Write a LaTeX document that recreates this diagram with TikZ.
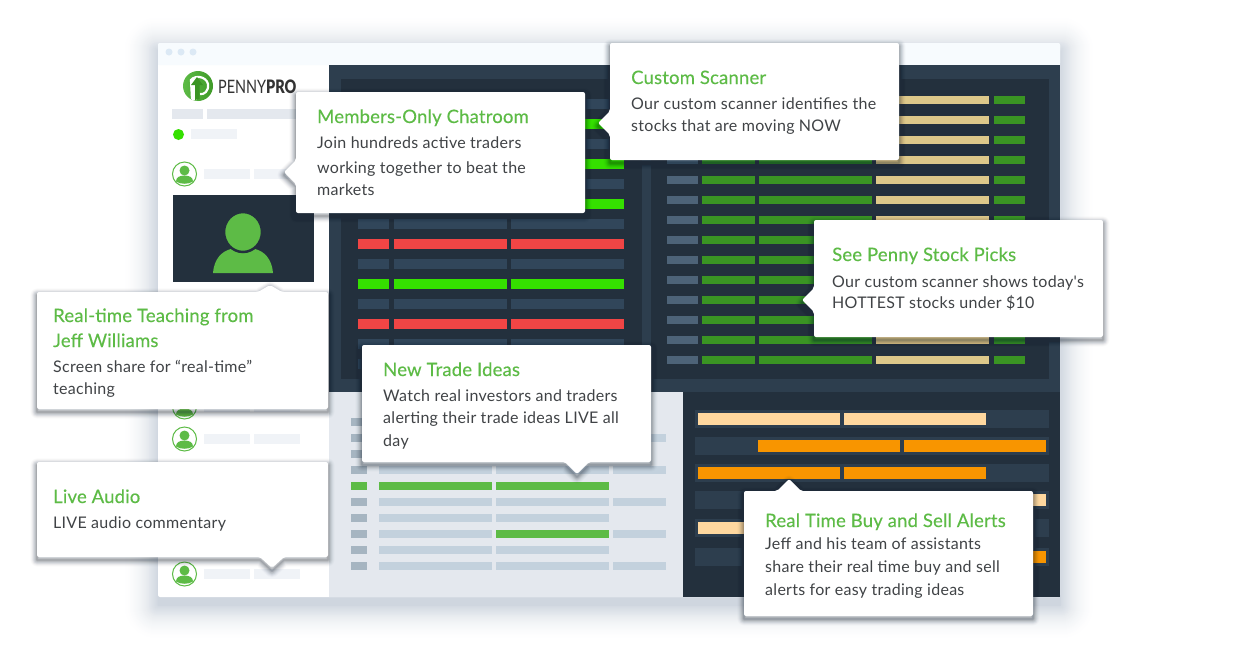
\documentclass[tikz,border=0pt]{standalone}
\usepackage{fontspec}
\setmainfont{Lato}
\newfontfamily\bodyfont[LetterSpace=1.8]{Lato}
\newfontfamily\ttlfont[FakeBold=0.25,LetterSpace=1.0]{Lato}
\newfontfamily\logolight{Lato}
\newfontfamily\logobold{Lato Black}
\definecolor{panelouter}{HTML}{2D3E4E}
\definecolor{panelinner}{HTML}{23303D}
\definecolor{rowplain}{HTML}{31465A}
\definecolor{rowgreen}{HTML}{35E000}
\definecolor{rowred}{HTML}{F04545}
\definecolor{slate}{HTML}{4D6378}
\definecolor{dkgreen}{HTML}{3A9423}
\definecolor{sand}{HTML}{DDC88A}
\definecolor{brand}{HTML}{5DBB46}
\definecolor{lightpanel}{HTML}{E4E8EE}
\definecolor{lgrey}{HTML}{A6B5C1}
\definecolor{lblue}{HTML}{C3D1DD}
\definecolor{peach}{HTML}{FFD89F}
\definecolor{orange1}{HTML}{F89500}
\definecolor{tbar}{HTML}{F7FBFE}
\definecolor{dot}{HTML}{DCE9F5}
\definecolor{sidebar1}{HTML}{E4E8EE}
\definecolor{sidebar2}{HTML}{F0F3F7}
\definecolor{bodytxt}{HTML}{404346}
\definecolor{shadowc}{HTML}{1E2A38}
\definecolor{edgeshade}{HTML}{CFD6DF}
\tikzset{
  ttl/.style={anchor=base west,inner sep=0pt,text=brand,font=\ttlfont\fontsize{18.5}{20}\selectfont},
  bodyline/.style={anchor=base west,inner sep=0pt,text=bodytxt,font=\bodyfont\fontsize{16}{18}\selectfont},
  callout/.style={fill=white,rounded corners=2pt},
}
\newcommand{\softshadow}[5]{% path, dx, dy, spread, opacity
  \foreach \w in {1,...,30}{
    \pgfmathsetmacro{\lw}{max(0.1,2*#4*(1-sqrt(\w/30)))}
    \draw[draw=shadowc,line width=\lw pt,line join=round,opacity=#5,shift={(#2,#3)}] #1;
  }
}
\newcommand{\calloutbox}[1]{%
  \softshadow{#1}{0}{3}{8}{0.014}
  \fill[callout] #1;
}
\newcommand{\userbadge}[2]{%
  \begin{scope}[shift={(#1,#2)}]
    \draw[brand,line width=1pt,fill=white] (0,0) circle (12);
    \fill[brand] (0,-3.5) circle (5);
    \fill[brand] (-8.5,7.5) .. controls (-8.5,3.5) and (-5,1.5) .. (0,1.5) .. controls (5,1.5) and (8.5,3.5) .. (8.5,7.5) .. controls (4,10.5) and (-4,10.5) .. (-8.5,7.5) -- cycle;
  \end{scope}
}
\begin{document}
\begin{tikzpicture}[x=1pt,y=-1pt]
\useasboundingbox (0,0) rectangle (1234,654);
\fill[white] (0,0) rectangle (1234,654);
% window shadow: opaque layers from the outside in
\foreach \w in {1,...,40}{
  \pgfmathsetmacro{\lw}{2*38*(1-\w/40)}
  \pgfmathsetmacro{\pct}{100*(\w/40)^2}
  \draw[draw=edgeshade!\pct!white,fill=edgeshade!\pct!white,line width=\lw pt,line join=round] (158,51) rectangle (1060,605);
}
% window
\fill[white,rounded corners=2pt] (158,43) rectangle (1060,597);
\fill[tbar,rounded corners=2pt] (158,43) rectangle (1060,65);
\fill[tbar] (158,55) rectangle (1060,65);
\foreach \dx in {169,181,193}{ \fill[dot] (\dx,52) circle (3.5); }
% dark panels
\fill[panelouter] (329,65) rectangle (1060,392);
\fill[panelinner] (341,79) rectangle (642,379);
\fill[panelinner] (651,79) rectangle (1049,379);
% left table
\foreach \ry/\rc in {99/rowplain,119/rowgreen,139/rowplain,159/rowgreen,179/rowplain,199/rowgreen,219/rowplain,239/rowred,259/rowplain,279/rowgreen,299/rowplain,319/rowred,339/rowplain,359/rowplain}{
  \fill[\rc] (358,\ry) rectangle (389,\ry+10);
  \fill[\rc] (394,\ry) rectangle (507,\ry+10);
  \fill[\rc] (511,\ry) rectangle (624,\ry+10);
}
% right table
\foreach \i in {0,...,13}{
  \pgfmathsetmacro{\ry}{96+20*\i}
  \fill[slate] (667,\ry) rectangle (698,\ry+8);
  \fill[dkgreen] (702,\ry) rectangle (755,\ry+8);
  \fill[dkgreen] (759,\ry) rectangle (872,\ry+8);
  \fill[sand] (876,\ry) rectangle (989,\ry+8);
  \fill[dkgreen] (994,\ry) rectangle (1025,\ry+8);
}
% bottom left panel
\fill[lightpanel] (329,392) rectangle (683,597);
\foreach \ry in {418,434,...,562}{
  \fill[lgrey] (351,\ry) rectangle (367,\ry+8);
  \fill[lblue] (379,\ry) rectangle (492,\ry+8);
  \fill[lblue] (496,\ry) rectangle (609,\ry+8);
}
\foreach \ry in {434,466,498,530,562}{ \fill[lblue] (613,\ry) rectangle (666,\ry+8); }
\fill[brand] (351,482) rectangle (367,490);
\fill[brand] (379,482) rectangle (492,490);
\fill[brand] (496,482) rectangle (609,490);
\fill[brand] (496,530) rectangle (609,538);
% bottom right panel
\fill[panelinner] (683,392) rectangle (1060,597);
\foreach \ty in {410,437,464,491,519,548}{ \fill[panelouter] (695,\ty) rectangle (1049,\ty+18); }
\foreach \by/\bc in {413/peach,467/orange1,522/peach}{
  \fill[\bc] (698,\by) rectangle (840,\by+12);
  \fill[\bc] (844,\by) rectangle (986,\by+12);
}
\foreach \by/\bc in {440/orange1,494/peach,551/orange1}{
  \fill[\bc] (758,\by) rectangle (900,\by+12);
  \fill[\bc] (904,\by) rectangle (1046,\by+12);
}
% sidebar content
\fill[sidebar1] (172,109) rectangle (203,119);
\fill[sidebar1] (207,109) rectangle (300,119);
\fill[rowgreen] (178.5,134.5) circle (5.5);
\fill[sidebar2] (191,129) rectangle (237,139);
\foreach \uy in {174,407,439,574}{
  \userbadge{184.5}{\uy}
  \fill[sidebar2] (204,\uy-5) rectangle (250,\uy+5);
  \fill[sidebar2] (254,\uy-5) rectangle (300,\uy+5);
}
% video
\fill[panelinner] (173,195) rectangle (314,282);
\fill[brand] (213,273) .. controls (214,259) and (222,251) .. (231,249) -- (255,249) .. controls (264,251) and (272,259) .. (273,273) -- cycle;
\draw[panelinner,line width=2.5pt,fill=brand] (243,232) ellipse (19 and 20);
% logo
\shade[left color=brand,right color=dkgreen!85!brand] (198,86) circle (15);
\draw[white,line width=2.2pt] (192,99) -- (191,80) .. controls (195,75) and (206,76) .. (208,84) .. controls (209,91) and (204,95) .. (200,94);
\fill[white] (190,80) -- (192,100) -- (197,100) -- (196,78) -- cycle;
\fill[dkgreen] (197,77) -- (203,85) -- (199.5,85) -- (199.5,99) -- (195,100) -- (195,85) -- (191,85) -- cycle;
\node[anchor=base west,inner sep=0pt,text=black!80,xscale=0.78] (logotext) at (218,93) {\fontsize{18.5}{20}\selectfont{\logolight PENNY}{\logobold PRO}};
% callouts
\calloutbox{(37,292) -- (258,292) -- (270,285) -- (282,292) -- (328,292) -- (328,409) -- (37,409) -- cycle}
\node[ttl] (t1a) at (53,322) {Real-time Teaching from};
\node[ttl] (t1b) at (53,347) {Jeff Williams};
\node[bodyline] (b1a) at (53,372) {Screen share for “real-time”};
\node[bodyline] (b1b) at (53,394) {teaching};

\calloutbox{(37,462) -- (328,462) -- (328,557) -- (284,557) -- (272,568) -- (260,557) -- (37,557) -- cycle}
\node[ttl] (t2) at (53,503) {Live Audio};
\node[bodyline] (b2) at (53,528) {LIVE audio commentary};

\calloutbox{(296,92) -- (585,92) -- (585,213) -- (296,213) -- (296,184) -- (284,172) -- (296,160) -- cycle}
\node[ttl] (t3) at (317,123) {Members-Only Chatroom};
\node[bodyline] (b3a) at (317,148) {Join hundreds active traders};
\node[bodyline] (b3b) at (317,173) {working together to beat the};
\node[bodyline] (b3c) at (317,195) {markets};

\calloutbox{(610,43) -- (899,43) -- (899,160) -- (610,160) -- (610,135) -- (598,123) -- (610,111) -- cycle}
\node[ttl] (t4) at (631,84) {Custom Scanner};
\node[bodyline] (b4a) at (631,109) {Our custom scanner identifies the};
\node[bodyline] (b4b) at (631,131) {stocks that are moving NOW};

\calloutbox{(814,220) -- (1103,220) -- (1103,337) -- (814,337) -- (814,312) -- (802,300) -- (814,288) -- cycle}
\node[ttl] (t5) at (832,261) {See Penny Stock Picks};
\node[bodyline] (b5a) at (832,287) {Our custom scanner shows today's};
\node[bodyline] (b5b) at (832,308) {HOTTEST stocks under \$10};

\calloutbox{(362,345) -- (651,345) -- (651,462) -- (589,462) -- (577,474) -- (565,462) -- (362,462) -- cycle}
\node[ttl] (t6) at (383,376) {New Trade Ideas};
\node[bodyline] (b6a) at (383,401) {Watch real investors and traders};
\node[bodyline] (b6b) at (383,423) {alerting their trade ideas LIVE all};
\node[bodyline] (b6c) at (383,446) {day};

\calloutbox{(744,491) -- (777,491) -- (789,479) -- (801,491) -- (1033,491) -- (1033,616) -- (744,616) -- cycle}
\node[ttl] (t7) at (765,527) {Real Time Buy and Sell Alerts};
\node[bodyline] (b7a) at (765,549) {Jeff and his team of assistants};
\node[bodyline] (b7b) at (765,572) {share their real time buy and sell};
\node[bodyline] (b7c) at (765,595) {alerts for easy trading ideas};
\end{tikzpicture}
\end{document}
